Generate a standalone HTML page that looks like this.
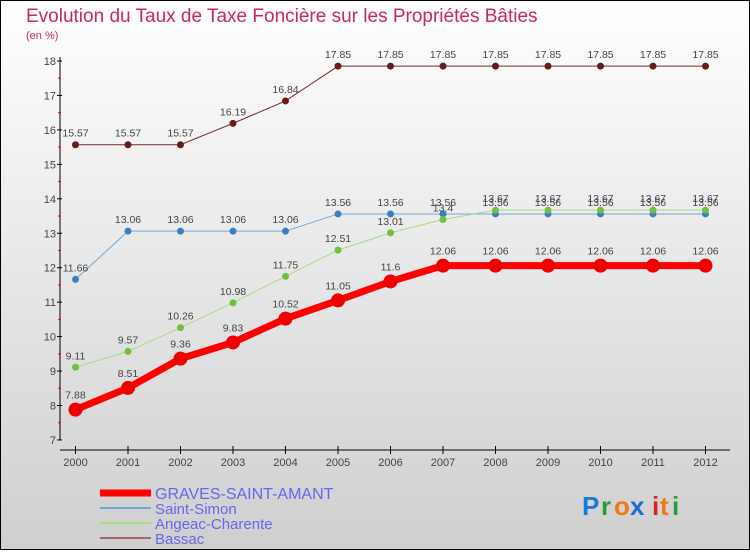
<!DOCTYPE html>
<html><head><meta charset="utf-8"><style>
body{margin:0}
#c{width:750px;height:550px;position:relative;font-family:"Liberation Sans",sans-serif}
svg text{font-family:"Liberation Sans",sans-serif}
</style></head><body>
<div id="c">
<svg id="s" width="750" height="550" xmlns="http://www.w3.org/2000/svg">
<defs><linearGradient id="bg" x1="0" y1="0" x2="0" y2="1"><stop offset="0" stop-color="#ffffff"/><stop offset="1" stop-color="#cfcfcf"/></linearGradient></defs>
<rect x="0.5" y="0.5" width="749" height="549" fill="url(#bg)" stroke="#000"/>
<text x="26" y="22" font-size="19" fill="#c8285a">Evolution du Taux de Taxe Foncière sur les Propriétés Bâties</text>
<text x="26" y="39" font-size="11" fill="#c8285a">(en %)</text>
<g id="axes"></g><g id="series"></g><g id="legend"></g>
<g font-size="26" font-weight="bold">
<text x="582" y="515" fill="#1a7ad8">P</text><text x="601" y="515" fill="#2a9a3a">r</text><text x="614" y="515" fill="#f07a10">o</text><text x="630" y="515" fill="#1a6ad0">x</text><text x="652" y="515" fill="#e02020">i</text><text x="660" y="515" fill="#f07a10">t</text><text x="672" y="515" fill="#2a9a3a">i</text>
</g>
</svg>
</div>
<script>
const years=[2000,2001,2002,2003,2004,2005,2006,2007,2008,2009,2010,2011,2012];
const yTicks=[7,8,9,10,11,12,13,14,15,16,17,18];
const graves=[7.88,8.51,9.36,9.83,10.52,11.05,11.6,12.06,12.06,12.06,12.06,12.06,12.06];
const saintSimon=[11.66,13.06,13.06,13.06,13.06,13.56,13.56,13.56,13.56,13.56,13.56,13.56,13.56];
const angeac=[9.11,9.57,10.26,10.98,11.75,12.51,13.01,13.4,13.67,13.67,13.67,13.67,13.67];
const bassac=[15.57,15.57,15.57,16.19,16.84,17.85,17.85,17.85,17.85,17.85,17.85,17.85,17.85];
const NS="http://www.w3.org/2000/svg";
const X=i=>75.5+i*52.5;
const Y=v=>61+(18-v)*34.45;
function mk(p,tag,at){const e=document.createElementNS(NS,tag);for(const k in at)e.setAttribute(k,at[k]);p.appendChild(e);return e;}
const ax=document.getElementById('axes');
let e=mk(ax,'line',{x1:60,y1:57,x2:60,y2:440,stroke:'#000','stroke-width':1});


e=mk(ax,'line',{x1:60,y1:450,x2:730,y2:450,stroke:'#000','stroke-width':1});


yTicks.forEach(v=>{
 mk(ax,'line',{x1:57,y1:Y(v),x2:62,y2:Y(v),stroke:'#000'});
 if(v<18)mk(ax,'line',{x1:58,y1:Y(v+0.5),x2:61,y2:Y(v+0.5),stroke:'#e00'});
 const t=mk(ax,'text',{x:56,y:Y(v)+4,'font-size':11,fill:'#444','text-anchor':'end'});t.textContent=v;
 
 
});
years.forEach((yr,i)=>{
 mk(ax,'line',{x1:X(i),y1:446,x2:X(i),y2:454,stroke:'#000'});
 const t=mk(ax,'text',{x:X(i),y:466,'font-size':11,fill:'#444','text-anchor':'middle'});t.textContent=yr;
 
 
});
const sg=document.getElementById('series');
const defs=[
 {d:bassac,c:'#7a2a2a',dot:'#6a1a1a',w:1,r:3.5,name:'bassac'},
 {d:saintSimon,c:'#6fa8d8',dot:'#3a80c0',w:1,r:3.5,name:'saint-simon'},
 {d:angeac,c:'#a8dc80',dot:'#70c040',w:1,r:3.5,name:'angeac-charente'},
 {d:graves,c:'#f00',dot:'#e00',w:7,r:7,name:'graves-saint-amant'}];
defs.forEach(s=>{
 const g=mk(sg,'g',{});
 
 
 const p=mk(g,'polyline',{points:s.d.map((v,i)=>X(i)+','+Y(v)).join(' '),fill:'none',stroke:s.c,'stroke-width':s.w});
 
 
 s.d.forEach((v,i)=>{
  const c=mk(g,'circle',{cx:X(i),cy:Y(v),r:s.r,fill:s.dot});
  
  
  const t=mk(g,'text',{x:X(i),y:Y(v)-(s.w>3?11:8),'font-size':10.5,fill:'#444','text-anchor':'middle'});
  t.textContent=v;
  
  
 });
});
const lg=document.getElementById('legend');
const leg=[['GRAVES-SAINT-AMANT','#f00',7],['Saint-Simon','#6fa8d8',2],['Angeac-Charente','#a8dc80',2],['Bassac','#a06868',2]];
leg.forEach((l,i)=>{
 const y=493+i*15;
 const g=mk(lg,'g',{});
 
 
 mk(g,'line',{x1:100,y1:y,x2:151,y2:y,stroke:l[1],'stroke-width':l[2]});
 const t=mk(g,'text',{x:155,y:y+6,'font-size':i==0?16:15,fill:'#6666ee'});t.textContent=l[0];
});
</script>
</body></html>
